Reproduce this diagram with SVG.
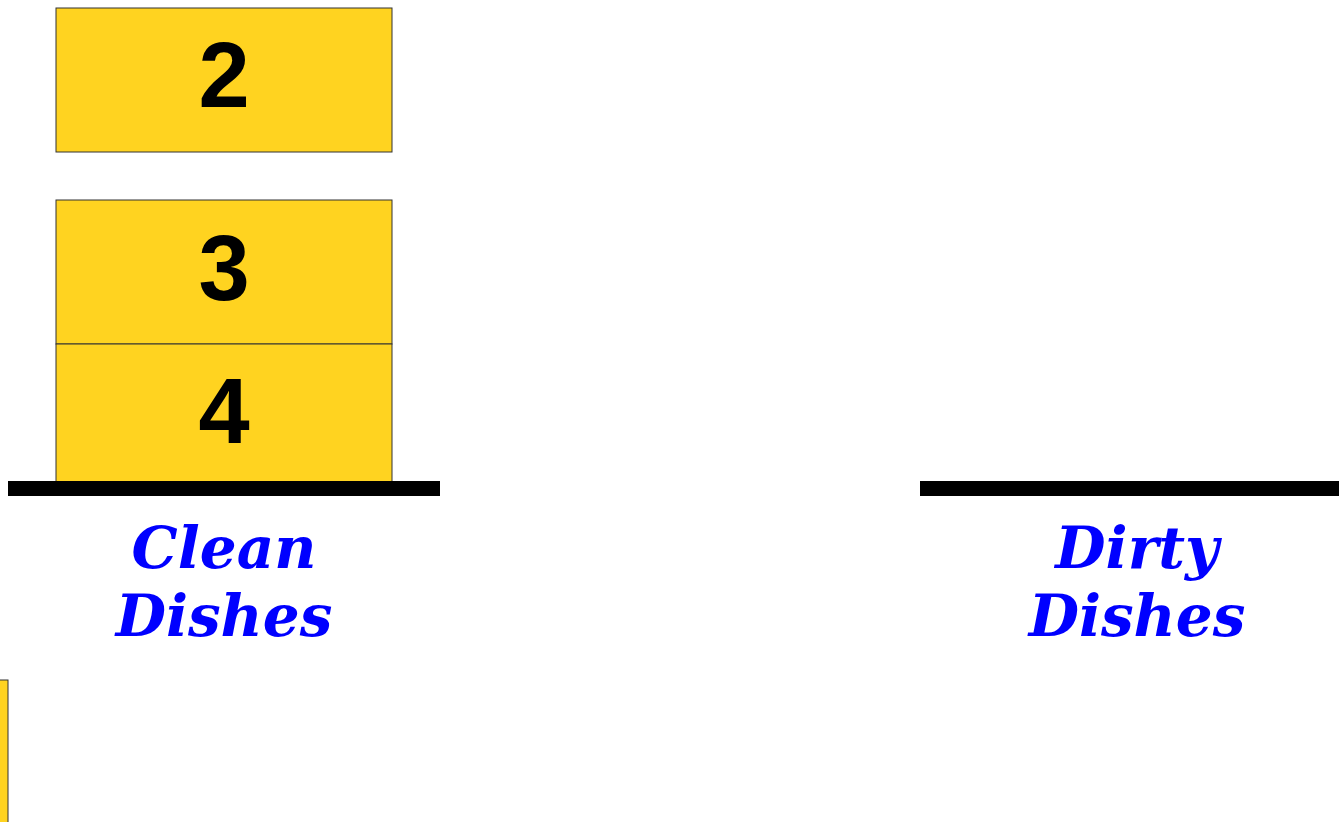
<svg xmlns="http://www.w3.org/2000/svg" width="1339" height="822" viewBox="0 0 1339 822">
<style>
.dish{fill:#ffd320;stroke:#333;stroke-width:1}
.num{font-family:"Liberation Sans",Arial,sans-serif;font-weight:bold;font-size:92px;fill:#000;text-anchor:middle}
.lbl{font-family:"DejaVu Serif",serif;font-weight:bold;font-style:italic;font-size:58px;fill:#0000ff;text-anchor:middle}
.shelf{fill:#000}
</style>
<rect width="1339" height="822" fill="#fff"/>
<g id="dish2"><rect class="dish" x="56" y="8" width="336" height="144"/><text class="num" x="224" y="107">2</text></g>
<g id="dish3"><rect class="dish" x="56" y="200" width="336" height="144"/><text class="num" x="224" y="300">3</text></g>
<g id="dish4"><rect class="dish" x="56" y="344" width="336" height="144"/><text class="num" x="224" y="443">4</text></g>
<g id="dish-partial"><rect class="dish" x="-340" y="680" width="348" height="160"/></g>
<g id="clean-shelf"><rect class="shelf" x="8" y="481" width="432" height="15"/></g>
<g id="dirty-shelf"><rect class="shelf" x="920" y="481" width="430" height="15"/></g>
<g id="clean-label"><text class="lbl" x="224" y="568">Clean</text><text class="lbl" x="224" y="636">Dishes</text></g>
<g id="dirty-label"><text class="lbl" x="1137" y="568">Dirty</text><text class="lbl" x="1137" y="636">Dishes</text></g>
<g id="connectors"></g>
</svg>
